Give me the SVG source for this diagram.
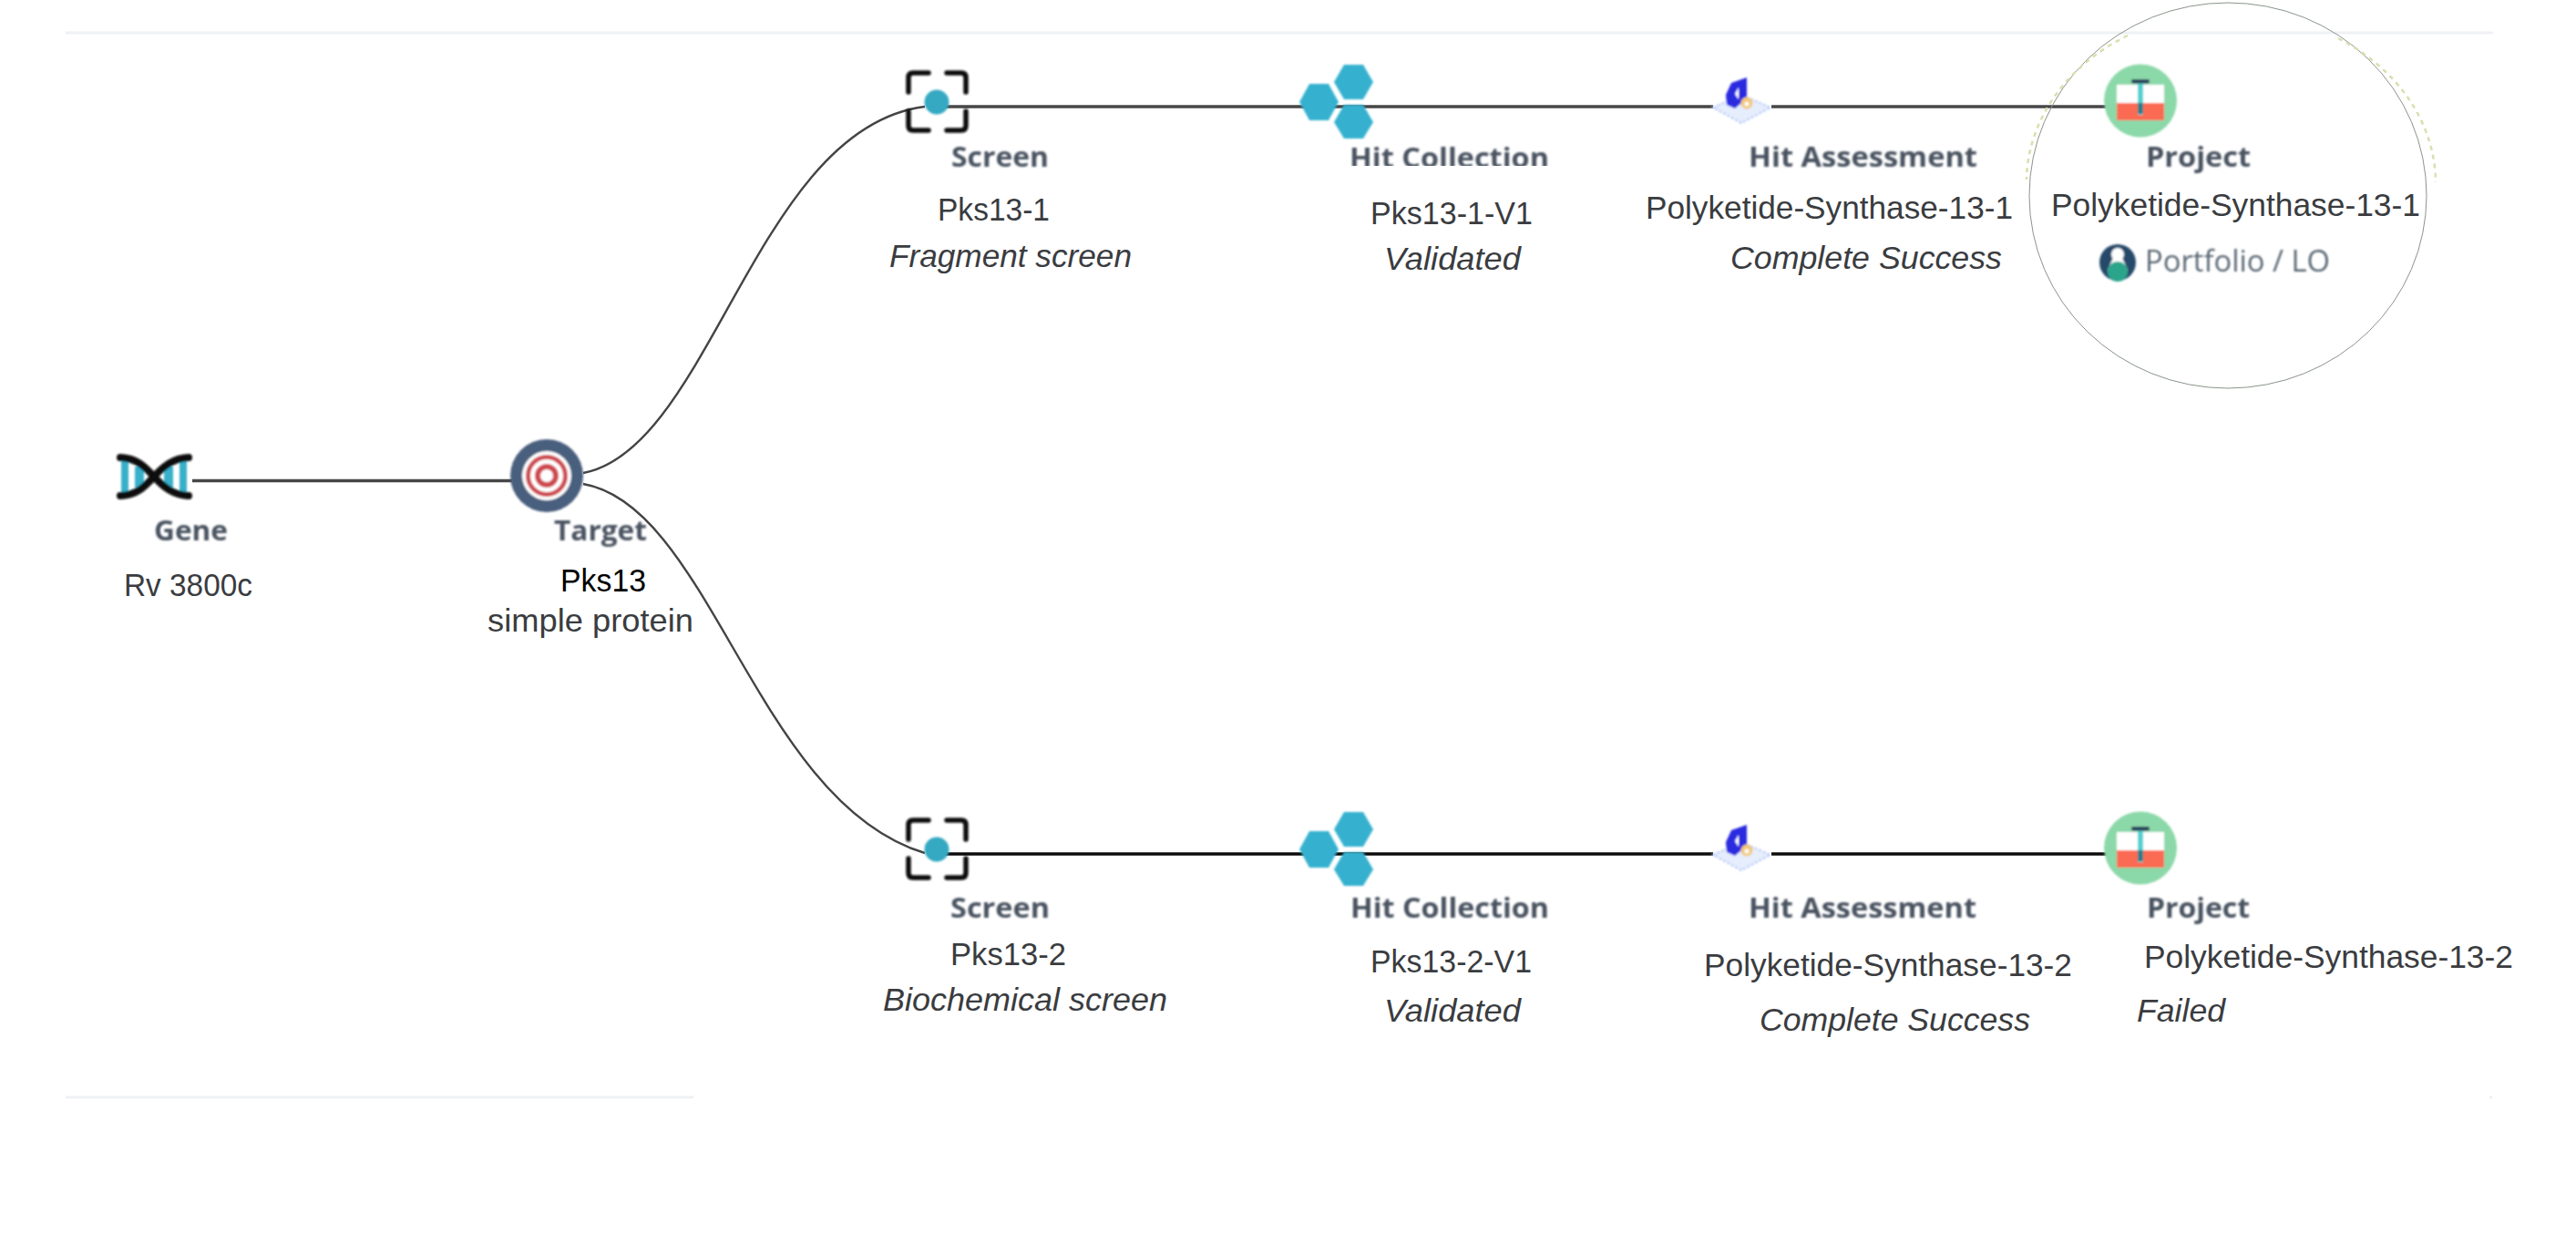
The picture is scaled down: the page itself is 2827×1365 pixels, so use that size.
<svg xmlns="http://www.w3.org/2000/svg" width="2827" height="1365" viewBox="0 0 2827 1365">
<style>
.t{font-family:"Liberation Sans",Arial,sans-serif;font-size:35px;fill:#3a3c3f}
.i{font-style:italic}
.b{font-family:"Open Sans","Noto Sans",sans-serif;font-size:31px;font-weight:700;fill:#4a5361;filter:url(#soft)}
.rule{fill:none;stroke:#f0f1f4;stroke-width:3}
.top{fill:none;stroke:#474747;stroke-width:3.500}
.bot{fill:none;stroke:#0c0c0c;stroke-width:3.500}
.cv{fill:none;stroke:#444;stroke-width:2.400}
.ico{filter:url(#soft)}
</style>
<defs>
<filter id="soft" x="-10%" y="-20%" width="120%" height="140%"><feGaussianBlur stdDeviation="0.8"/></filter>
<clipPath id="cut"><rect x="1440" y="150" width="300" height="32"/></clipPath>
<g id="screen-icon">
<circle cx="1028" cy="112" r="13.500" fill="#35a9c2"/>
</g>
<g id="screen-brackets" fill="none" stroke="#111" stroke-width="5.500" stroke-linejoin="round" stroke-linecap="round">
<path d="M997 101V85Q997 80 1002 80H1019"/>
<path d="M1039 80H1055Q1060 80 1060 85V101"/>
<path d="M997 122V138Q997 143 1002 143H1019"/>
<path d="M1039 143H1055Q1060 143 1060 138V122"/>
</g>
<g id="hex-icon" fill="#35b1cf">
<path d="M1426 112L1437 92H1458L1469 112L1458 132H1437Z"/>
<path d="M1464 90L1475 71H1496L1507 90L1496 109H1475Z"/>
<path d="M1464 134L1475 115H1496L1507 134L1496 152H1475Z"/>
</g>
<g id="assess-icon">
<path d="M1880 118L1911 104L1943 118L1911 135Z" fill="#e6edfc" stroke="#b4c8f8" stroke-width="2" stroke-dasharray="3 2"/>
<path d="M1894 104L1900 91L1917 85L1917 108L1904 119L1895 115Z" fill="#2a2ae0"/>
<path d="M1904 103L1908 96L1908 109Z" fill="#fff"/>
<circle cx="1917" cy="113" r="6.500" fill="#f3c777"/>
<circle cx="1917" cy="114" r="2.500" fill="#fff"/>
</g>
<g id="project-icon">
<circle cx="2349" cy="110.500" r="40" fill="#8bd8a8"/>
<rect x="2323" y="93" width="52" height="20" fill="#fff"/>
<rect x="2323" y="113" width="52" height="19" fill="#fb6b52"/>
<rect x="2346" y="91" width="6" height="35" fill="#4fd2cf"/>
<rect x="2346" y="113" width="6" height="12" fill="#23808a"/>
<rect x="2339" y="87" width="20" height="4.500" rx="2" fill="#2b3f5c"/>
</g>
</defs>
<rect width="2827" height="1365" fill="#fff"/>
<path class="rule" d="M72 36H2736"/>
<path class="rule" d="M72 1204H761"/>
<path class="rule" d="M2732 1204H2735"/>

<g id="connectors">
<path class="top" d="M211 527.500H562"/>
<path class="cv" d="M640 519C780 493 830 140 1015 117"/>
<path class="cv" d="M640 531C780 555 830 880 1015 936"/>
<path class="top" d="M1028 117H1880"/>
<path class="top" d="M1944 117H2312"/>
<path class="bot" d="M1028 937H1880"/>
<path class="bot" d="M1944 937H2312"/>
</g>

<g id="gene">
<g class="ico">
<path d="M133 506H141V541H133ZM148 512H158V535H148ZM180 512H190V535H180ZM197 506H205V541H197Z" fill="#38b0ca"/>
<path d="M132 502C150 503 158 511 169 523C180 535 190 543 207 544M207 502C190 503 180 511 169 523C158 535 150 543 132 544" fill="none" stroke="#0b0b0b" stroke-width="8" stroke-linecap="round"/>
</g>
<text class="b" lengthAdjust="spacingAndGlyphs" x="169" y="593" textLength="81">Gene</text>
<text class="t" lengthAdjust="spacingAndGlyphs" x="136" y="654" textLength="141">Rv 3800c</text>
</g>

<g id="target">
<g class="ico">
<circle cx="600" cy="522" r="40" fill="#4a5f7e"/>
<circle cx="600" cy="522" r="27" fill="#fff"/>
<circle cx="600" cy="522" r="20.500" fill="none" stroke="#cf4a50" stroke-width="5"/>
<circle cx="600" cy="522" r="10" fill="none" stroke="#cf4a50" stroke-width="6"/>
</g>
<text class="b" lengthAdjust="spacingAndGlyphs" x="608" y="593" textLength="102">Target</text>
<text class="t" lengthAdjust="spacingAndGlyphs" x="615" y="649" textLength="94" style="fill:#000">Pks13</text>
<text class="t" lengthAdjust="spacingAndGlyphs" x="535" y="693" textLength="226">simple protein</text>
</g>

<g id="screen-1">
<use href="#screen-brackets" class="ico"/><use href="#screen-icon" class="ico"/>
<text class="b" lengthAdjust="spacingAndGlyphs" x="1044" y="183" textLength="107">Screen</text>
<text class="t" lengthAdjust="spacingAndGlyphs" x="1029" y="242" textLength="123">Pks13-1</text>
<text class="t i" lengthAdjust="spacingAndGlyphs" x="976" y="293" textLength="266">Fragment screen</text>
</g>

<g id="hit-collection-1">
<use href="#hex-icon" class="ico"/>
<g clip-path="url(#cut)"><text class="b" lengthAdjust="spacingAndGlyphs" x="1481" y="184" textLength="219">Hit Collection</text></g>
<text class="t" lengthAdjust="spacingAndGlyphs" x="1504" y="246" textLength="178">Pks13-1-V1</text>
<text class="t i" lengthAdjust="spacingAndGlyphs" x="1519" y="296" textLength="150">Validated</text>
</g>

<g id="hit-assessment-1">
<use href="#assess-icon" class="ico"/>
<text class="b" lengthAdjust="spacingAndGlyphs" x="1919" y="183" textLength="251">Hit Assessment</text>
<text class="t" lengthAdjust="spacingAndGlyphs" x="1806" y="240" textLength="403">Polyketide-Synthase-13-1</text>
<text class="t i" lengthAdjust="spacingAndGlyphs" x="1899" y="295" textLength="298">Complete Success</text>
</g>

<g id="project-1">
<ellipse cx="2445" cy="214.500" rx="218" ry="211.500" fill="none" stroke="#8a948a" stroke-width="1"/>
<path d="M2335 39A225 187 0 0 0 2224 197M2566 42A225 187 0 0 1 2673 200" fill="none" stroke="#d9dfb0" stroke-width="2.500" stroke-dasharray="5 5"/>
<use href="#project-icon" class="ico"/>
<text class="b" lengthAdjust="spacingAndGlyphs" x="2355" y="183" textLength="115">Project</text>
<text class="t" lengthAdjust="spacingAndGlyphs" x="2251" y="237" textLength="405">Polyketide-Synthase-13-1</text>
<g class="ico">
<circle cx="2324" cy="288" r="20" fill="#274a6b"/>
<circle cx="2324" cy="279" r="7" fill="#fff"/>
<path d="M2319 283H2329L2335 296A11 11 0 0 1 2313 296Z" fill="#fff"/>
<circle cx="2324" cy="298" r="11" fill="#2aa58c"/>
</g>
<text class="b" lengthAdjust="spacingAndGlyphs" x="2354" y="298" textLength="203" style="font-weight:400;font-size:33px;fill:#5a6773">Portfolio / LO</text>
</g>

<g id="screen-2">
<use href="#screen-brackets" class="ico" y="820"/><use href="#screen-icon" class="ico" y="820"/>
<text class="b" lengthAdjust="spacingAndGlyphs" x="1043" y="1007" textLength="109">Screen</text>
<text class="t" lengthAdjust="spacingAndGlyphs" x="1043" y="1059" textLength="127">Pks13-2</text>
<text class="t i" lengthAdjust="spacingAndGlyphs" x="969" y="1109" textLength="312">Biochemical screen</text>
</g>

<g id="hit-collection-2">
<use href="#hex-icon" class="ico" y="820"/>
<text class="b" lengthAdjust="spacingAndGlyphs" x="1482" y="1007" textLength="218">Hit Collection</text>
<text class="t" lengthAdjust="spacingAndGlyphs" x="1504" y="1067" textLength="177">Pks13-2-V1</text>
<text class="t i" lengthAdjust="spacingAndGlyphs" x="1519" y="1121" textLength="150">Validated</text>
</g>

<g id="hit-assessment-2">
<use href="#assess-icon" class="ico" y="820"/>
<text class="b" lengthAdjust="spacingAndGlyphs" x="1919" y="1007" textLength="250">Hit Assessment</text>
<text class="t" lengthAdjust="spacingAndGlyphs" x="1870" y="1071" textLength="404">Polyketide-Synthase-13-2</text>
<text class="t i" lengthAdjust="spacingAndGlyphs" x="1931" y="1131" textLength="297">Complete Success</text>
</g>

<g id="project-2">
<use href="#project-icon" class="ico" y="820"/>
<text class="b" lengthAdjust="spacingAndGlyphs" x="2356" y="1007" textLength="113">Project</text>
<text class="t" lengthAdjust="spacingAndGlyphs" x="2353" y="1062" textLength="405">Polyketide-Synthase-13-2</text>
<text class="t i" lengthAdjust="spacingAndGlyphs" x="2345" y="1121" textLength="97">Failed</text>
</g>
</svg>
